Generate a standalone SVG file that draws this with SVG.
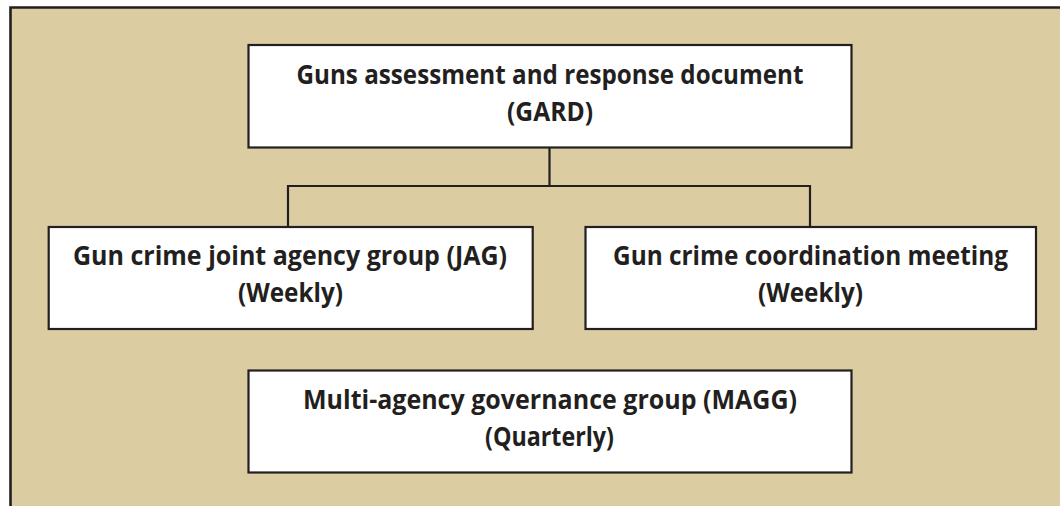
<svg xmlns="http://www.w3.org/2000/svg" width="1060" height="506" viewBox="0 0 1060 506">
<style>
.box{fill:#ffffff;stroke:#231f20;stroke-width:2.2}
.ln{fill:none;stroke:#231f20;stroke-width:2.2}
.t{font-family:"Open Sans","Liberation Sans",sans-serif;font-weight:bold;font-size:27px;fill:#231f20;text-anchor:middle}
</style>
<rect x="0" y="0" width="1060" height="506" fill="#ffffff"/>
<rect x="10.5" y="7.5" width="1050" height="500" fill="#dbcca2"/>
<path d="M10.5,506 V7.5 H1060" fill="none" stroke="#231f20" stroke-width="2.6"/>
<g id="connectors">
<path class="ln" d="M549.5,147.5 V186"/>
<path class="ln" d="M288,227 V186 H810 V227"/>
</g>
<g id="gard">
<rect class="box" x="248.5" y="45" width="603" height="102.5"/>
<text class="t" x="550" y="84" textLength="507" lengthAdjust="spacingAndGlyphs">Guns assessment and response document</text>
<text class="t" x="550" y="121" textLength="86" lengthAdjust="spacingAndGlyphs">(GARD)</text>
</g>
<g id="jag">
<rect class="box" x="48.7" y="227" width="484" height="102"/>
<text class="t" x="290" y="265" textLength="434" lengthAdjust="spacingAndGlyphs">Gun crime joint agency group (JAG)</text>
<text class="t" x="290.5" y="302" textLength="105" lengthAdjust="spacingAndGlyphs">(Weekly)</text>
</g>
<g id="coordination">
<rect class="box" x="585.5" y="227" width="450.5" height="102"/>
<text class="t" x="810.5" y="265" textLength="395" lengthAdjust="spacingAndGlyphs">Gun crime coordination meeting</text>
<text class="t" x="810.5" y="302" textLength="105" lengthAdjust="spacingAndGlyphs">(Weekly)</text>
</g>
<g id="magg">
<rect class="box" x="248.5" y="370.5" width="603" height="102"/>
<text class="t" x="550" y="409" textLength="494" lengthAdjust="spacingAndGlyphs">Multi-agency governance group (MAGG)</text>
<text class="t" x="549.5" y="446" textLength="129" lengthAdjust="spacingAndGlyphs">(Quarterly)</text>
</g>
</svg>
